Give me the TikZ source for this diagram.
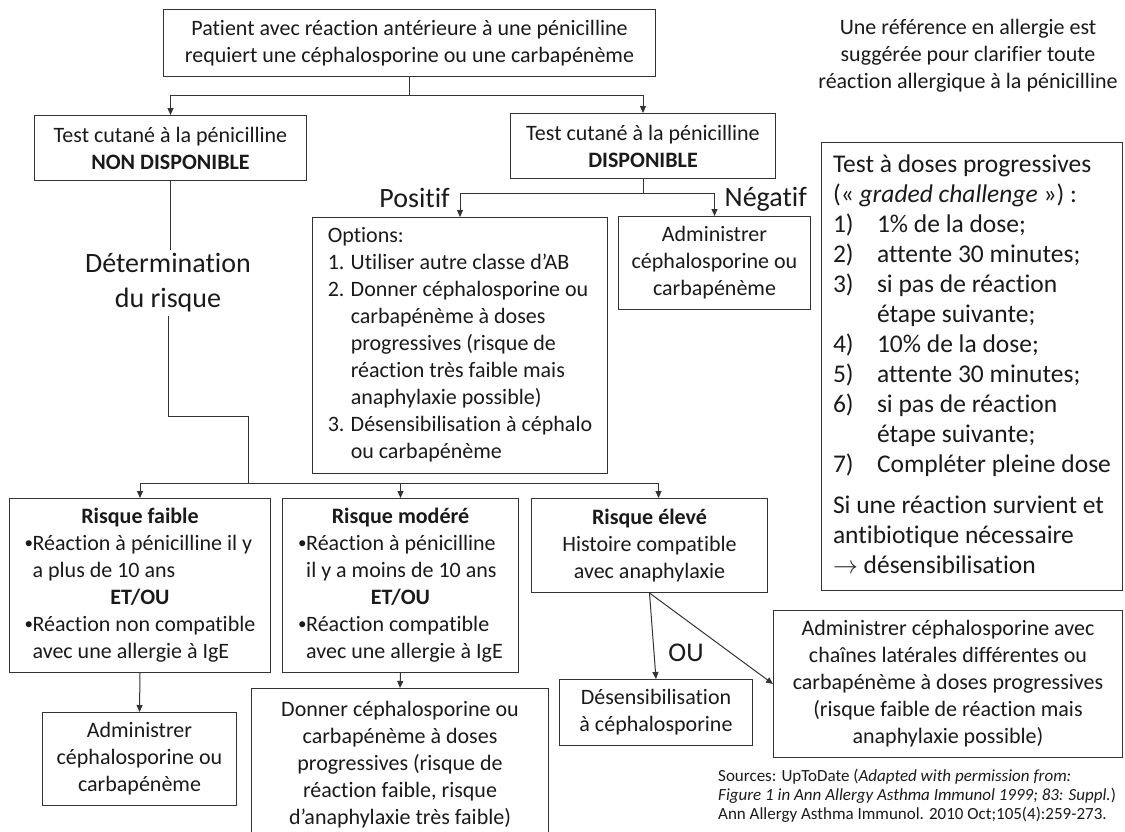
\documentclass[tikz,border=0pt]{standalone}
\usepackage{fontspec}
\setmainfont{Carlito}[Ligatures=NoCommon]
\usetikzlibrary{arrows.meta,positioning,calc}
\definecolor{ink}{HTML}{1A1A1A}
\definecolor{frame}{HTML}{333333}
\newcommand{\centre}[1]{\multicolumn{1}{@{}c@{}}{#1}}
\newcommand{\puce}{\makebox[8pt][l]{\raisebox{1.5pt}{\fontsize{17}{17}\selectfont\textbullet}}}
\newcommand{\retrait}{\hspace*{8pt}}
\newcommand{\rang}[1]{\makebox[44pt][l]{#1}}
\newcommand{\choix}[1]{\makebox[23pt][l]{#1}}

\begin{document}
\begin{tikzpicture}[x=1pt, y=-1pt,
  box/.style={draw=frame, line width=1pt, anchor=north west, inner xsep=4pt, inner ysep=2pt, text=ink},
  t22/.style={font=\fontsize{22}{27}\selectfont},
  t25/.style={font=\fontsize{25.5}{30}\selectfont},
  t28/.style={font=\fontsize{28}{35}\selectfont, text=ink},
  lien/.style={draw=frame, line width=1pt},
  arr/.style={draw=frame, line width=1pt, -{Triangle[length=7pt,width=6pt]}}]

\useasboundingbox (0,0) rectangle (1125,831);

% Question de depart
\node[box, t22, align=center, minimum width=492pt, minimum height=67pt] (patient) at (163,9) {Patient avec réaction antérieure à une pénicilline\\ requiert une céphalosporine ou une carbapénème};
\node[t22, text=ink, align=center] (note) at (968,56) {Une référence en allergie est\\ suggérée pour clarifier toute\\ réaction allergique à la pénicilline};

% Test cutane
\node[box, t22, align=center, minimum width=272pt, minimum height=65pt] (nondispo) at (34,115) {Test cutané à la pénicilline\\ \textbf{NON DISPONIBLE}};
\node[box, t22, align=center, minimum width=265pt, minimum height=65pt] (dispo) at (510,113) {Test cutané à la pénicilline\\ \textbf{DISPONIBLE}};

% Branche disponible
\node[box, t22, minimum width=295pt, minimum height=256pt] (options) at (312,217) {\begin{tabular}{@{}l@{}}
Options:\\
\choix{1.}Utiliser autre classe d’AB\\
\choix{2.}Donner céphalosporine ou\\
\choix{}carbapénème à doses\\
\choix{}progressives (risque de\\
\choix{}réaction très faible mais\\
\choix{}anaphylaxie possible)\\
\choix{3.}Désensibilisation à céphalo\\
\choix{}ou carbapénème
\end{tabular}};
\node[box, t22, align=center, minimum width=192pt, minimum height=93pt] (negatif) at (618,216) {Administrer\\ céphalosporine ou\\ carbapénème};
\node[t28, anchor=south east, inner sep=0pt] (positif) at ([xshift=-10pt, yshift=9pt]options.north) {Positif};
\node[t28, anchor=base west, inner sep=0pt] (negtxt) at ([xshift=10pt, yshift=10pt]negatif.north) {Négatif};

% Test a doses progressives
\node[box, t25, minimum width=301pt, minimum height=448pt] (graded) at (821,142) {\begin{tabular}{@{}l@{}}
Test à doses progressives\\
(«~\textit{graded challenge}~») :\\
\rang{1)}1\% de la dose;\\
\rang{2)}attente 30 minutes;\\
\rang{3)}si pas de réaction\\
\rang{}étape suivante;\\
\rang{4)}10\% de la dose;\\
\rang{5)}attente 30 minutes;\\
\rang{6)}si pas de réaction\\
\rang{}étape suivante;\\
\rang{7)}Compléter pleine dose\\[11pt]
Si une réaction survient et\\
antibiotique nécessaire\\
$\rightarrow$ désensibilisation
\end{tabular}};

% Branche non disponible
\node[t28, align=center] (risque) at (168,283) {Détermination\\ du risque};
\coordinate (coude) at (248,416);
\coordinate (barre) at (248,483);

% Niveaux de risque
\node[box, t22, minimum width=261pt, minimum height=174pt] (faible) at (9,498) {\begin{tabular}{@{}l@{}}
\centre{\bfseries Risque faible}\\
\puce Réaction à pénicilline il y\\
\retrait a plus de 10 ans\\
\centre{\bfseries ET/OU}\\
\puce Réaction non compatible\\
\retrait avec une allergie à IgE
\end{tabular}};
\node[box, t22, minimum width=236pt, minimum height=174pt] (modere) at (282,498) {\begin{tabular}{@{}l@{}}
\centre{\bfseries Risque modéré}\\
\puce Réaction à pénicilline\\
\retrait il y a moins de 10 ans\\
\centre{\bfseries ET/OU}\\
\puce Réaction compatible\\
\retrait avec une allergie à IgE
\end{tabular}};
\node[box, t22, align=center, minimum width=236pt, minimum height=94pt] (eleve) at (531,498) {\textbf{Risque élevé}\\ Histoire compatible\\ avec anaphylaxie};

% Conduites
\node[box, t22, align=center, minimum width=194pt, minimum height=93pt] (admin) at (42,712) {Administrer\\ céphalosporine ou\\ carbapénème};
\node[box, t22, align=center, minimum width=297pt, minimum height=152pt] (donner) at (251,688) {Donner céphalosporine ou\\ carbapénème à doses\\ progressives (risque de\\ réaction faible, risque\\ d’anaphylaxie très faible)};
\node[box, t22, align=center, minimum width=193pt, minimum height=66pt] (desens) at (559,679) {Désensibilisation\\ à céphalosporine};
\node[box, t22, align=center, minimum width=349pt, minimum height=147pt] (chaines) at (773,610) {Administrer céphalosporine avec\\ chaînes latérales différentes ou\\ carbapénème à doses progressives\\ (risque faible de réaction mais\\ anaphylaxie possible)};
\node[font=\fontsize{27}{33}\selectfont, text=ink] (ou) at (686,653) {OU};

% Sources
\node[anchor=north west, align=left, inner sep=0pt, text=ink, font=\fontsize{17}{19}\selectfont] (sources) at (718,769) {Sources: UpToDate (\textit{Adapted with permission from:}\\ \textit{Figure 1 in Ann Allergy Asthma Immunol 1999; 83: Suppl.})\\ Ann Allergy Asthma Immunol. 2010 Oct;105(4):259-273.};

% Connecteurs
\coordinate (fourche) at ($(patient.south)+(0,18)$);
\draw[lien] (patient.south) -- (fourche);
\draw[arr] (fourche) -| (nondispo.north);
\draw[arr] (fourche) -| (dispo.north);
\coordinate (fourche2) at ($(dispo.south)+(0,14)$);
\draw[lien] (dispo.south) -- (fourche2);
\draw[arr] (fourche2) -| (options.north);
\draw[arr] (fourche2) -| (negatif.north);
\draw[lien] (nondispo.south) -- (nondispo.south |- risque.north);
\draw[lien] (risque.south) |- (coude) -- (barre);
\draw[arr] (barre) -| (faible.north);
\draw[arr] (barre) -| (modere.north);
\draw[arr] (barre) -| ([xshift=9pt]eleve.north);
\draw[arr] (faible.south) -- (admin.north);
\draw[arr] (modere.south) -- (donner.north);
\draw[arr] (eleve.south) -- (desens.north);
\draw[arr] (eleve.south) -- (chaines.west);

\end{tikzpicture}
\end{document}
